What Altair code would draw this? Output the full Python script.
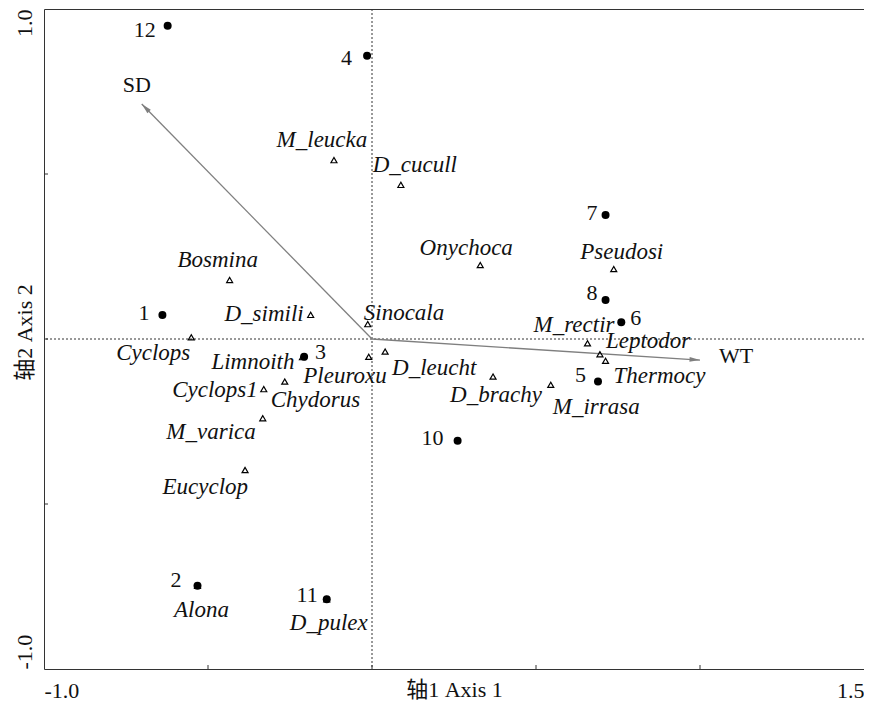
import altair as alt
import pandas as pd
import numpy as np

# ---- data (ordination scores) ----
site_ids = ["1", "2", "3", "4", "5", "6", "7", "8", "10", "11", "12"]
site_x = [-0.639, -0.532, -0.207, -0.015, 0.689, 0.760, 0.712, 0.712, 0.261, -0.138, -0.623]
site_y = [0.073, -0.748, -0.054, 0.858, -0.129, 0.051, 0.376, 0.118, -0.308, -0.789, 0.949]

species_names = ["Bosmina", "D_simili", "Sinocala", "Cyclops", "Limnoith", "Cyclops1",
                 "Chydorus", "M_varica", "Eucyclop", "Pleuroxu", "D_leucht", "D_brachy",
                 "M_irrasa", "Thermocy", "Leptodor", "M_rectir", "Pseudosi", "Onychoca",
                 "D_cucull", "M_leucka", "Alona", "D_pulex"]
species_x = [-0.434, -0.187, -0.013, -0.551, -0.212, -0.330, -0.266, -0.333, -0.387, -0.010,
             0.040, 0.369, 0.545, 0.712, 0.695, 0.657, 0.737, 0.330, 0.088, -0.116, -0.532, -0.138]
species_y = [0.179, 0.073, 0.045, 0.005, -0.055, -0.152, -0.129, -0.240, -0.397, -0.054,
             -0.038, -0.114, -0.139, -0.066, -0.046, -0.013, 0.212, 0.224, 0.467, 0.542, -0.748, -0.789]

env_names = ["SD", "WT"]
env_x = [-0.702, 1.000]
env_y = [0.712, -0.064]

x_tick_labels = [-1.0, 1.5]
y_tick_labels = [-1.0, 1.0]
x_minor_ticks = [-0.5, 0.0, 0.5, 1.0]
y_minor_ticks = [-0.5, 0.0, 0.5]

# ---- label layout (align, dx, dy in pixels) ----
species_label = {
    "Bosmina": ("center", -12, -20), "D_simili": ("right", -7, -1), "Sinocala": ("left", -4, -11),
    "Cyclops": ("right", -1, 16), "Limnoith": ("right", -8, 5), "Cyclops1": ("right", -6, 1),
    "Chydorus": ("left", -14, 18), "M_varica": ("right", -7, 14), "Eucyclop": ("right", 3, 17),
    "Pleuroxu": ("right", 18, 19), "D_leucht": ("left", 7, 16), "D_brachy": ("center", 3, 18),
    "M_irrasa": ("left", 2, 22), "Thermocy": ("left", 8, 15), "Leptodor": ("left", 6, -13),
    "M_rectir": ("right", 27, -18), "Pseudosi": ("center", 8, -17), "Onychoca": ("center", -14, -17),
    "D_cucull": ("center", 14, -20), "M_leucka": ("center", -12, -20), "Alona": ("center", 4, 24),
    "D_pulex": ("center", 2, 24),
}
site_label = {
    "12": ("right", -12, 4), "4": ("right", -15, 2), "7": ("right", -8, -2), "8": ("right", -8, -7),
    "6": ("left", 9, -4), "1": ("right", -13, -2), "3": ("left", 11, -5), "5": ("right", -12, -7),
    "10": ("right", -14, -3), "2": ("right", -16, -6), "11": ("right", -9, -4),
}
env_label = {"SD": ("center", -5, -19), "WT": ("left", 19, -4)}

W, H = 820, 660
FONT = "Liberation Serif"
CJK = "Liberation Serif, Noto Sans CJK SC"
LABEL_EXPR = "datum.value < 0 ? '-' + format(-datum.value, '.1f') : format(datum.value, '.1f')"

sites = pd.DataFrame({"name": site_ids, "x": site_x, "y": site_y})
species = pd.DataFrame({"name": species_names, "x": species_x, "y": species_y})
env = pd.DataFrame({"name": env_names, "x": env_x, "y": env_y})
env["x0"] = 0.0
env["y0"] = 0.0
env["ang"] = (np.degrees(np.arctan2(env["x"] * 1.0, env["y"] * 1.0)) + 360) % 360

xs = alt.Scale(domain=[-1.0, 1.5], nice=False, zero=False)
ys = alt.Scale(domain=[-1.0, 1.0], nice=False, zero=False)

X = lambda f="x": alt.X(f"{f}:Q", scale=xs)
Y = lambda f="y": alt.Y(f"{f}:Q", scale=ys)

x_axis = alt.Axis(values=x_tick_labels, labelExpr=LABEL_EXPR, grid=False, ticks=False, tickSize=0,
                  domain=False, labelFont=FONT, labelFontSize=22, labelColor="#111",
                  labelBaseline="alphabetic", labelPadding=28, labelFlush=True,
                  title="轴1 Axis 1", titleFont=CJK, titleFontSize=22, titleFontWeight="normal",
                  titleColor="#111", titleBaseline="alphabetic", titleY=27, titleX=W / 2)
y_axis = alt.Axis(values=y_tick_labels, labelExpr=LABEL_EXPR, grid=False, ticks=False, tickSize=0,
                  domain=False, labelFont=FONT, labelFontSize=22, labelColor="#111",
                  labelAngle=270, labelBaseline="alphabetic", labelPadding=13,
                  labelAlign={"condition": {"test": "datum.value > 0", "value": "right"}, "value": "left"},
                  title="轴2 Axis 2", titleFont=CJK, titleFontSize=22, titleFontWeight="normal",
                  titleColor="#111", titleAngle=270, titleBaseline="alphabetic", titleAlign="center",
                  titleX=-13, titleY=323)

layers = []

# zero lines
layers.append(alt.Chart(pd.DataFrame({"x": [0.0]})).mark_rule(
    color="#333", strokeDash=[2, 2], strokeWidth=1).encode(x=X()))
layers.append(alt.Chart(pd.DataFrame({"y": [0.0]})).mark_rule(
    color="#333", strokeDash=[2, 2], strokeWidth=1).encode(y=Y()))

# inner minor ticks
layers.append(alt.Chart(pd.DataFrame({"x": x_minor_ticks})).mark_rule(color="#333").encode(
    x=X(), y=alt.value(H - 4), y2=alt.value(H)))
layers.append(alt.Chart(pd.DataFrame({"y": y_minor_ticks})).mark_rule(color="#333").encode(
    y=Y(), x=alt.value(0), x2=alt.value(4)))

# environmental arrows
layers.append(alt.Chart(env).mark_rule(color="#7f7f7f", strokeWidth=1.3).encode(
    x=X("x0"), y=Y("y0"), x2="x:Q", y2="y:Q"))
layers.append(alt.Chart(env).mark_point(shape="M0,0L-0.45,2L0.45,2Z", filled=True, size=110,
                                        color="#7f7f7f", opacity=1).encode(
    x=X(), y=Y(), angle=alt.Angle("ang:Q", scale=None)))

# species triangles
layers.append(alt.Chart(species).mark_point(shape="triangle-up", size=36, filled=False,
                                            color="#000", strokeWidth=1.2, opacity=1).encode(x=X(), y=Y()))

# labels
for n, (a, dx, dy) in species_label.items():
    layers.append(alt.Chart(species).transform_filter(alt.datum.name == n).mark_text(
        align=a, baseline="middle", dx=dx, dy=dy, font=FONT, fontSize=23, fontStyle="italic",
        color="#111").encode(x=X(), y=Y(), text="name:N"))
for n, (a, dx, dy) in site_label.items():
    layers.append(alt.Chart(sites).transform_filter(alt.datum.name == n).mark_text(
        align=a, baseline="middle", dx=dx, dy=dy, font=FONT, fontSize=22,
        color="#111").encode(x=X(), y=Y(), text="name:N"))
for n, (a, dx, dy) in env_label.items():
    layers.append(alt.Chart(env).transform_filter(alt.datum.name == n).mark_text(
        align=a, baseline="middle", dx=dx, dy=dy, font=FONT, fontSize=22,
        color="#111").encode(x=X(), y=Y(), text="name:N"))

# site dots (carry the axes; drawn last)
layers.append(alt.Chart(sites).mark_circle(size=64, color="#000", opacity=1).encode(
    x=alt.X("x:Q", scale=xs, axis=x_axis), y=alt.Y("y:Q", scale=ys, axis=y_axis)))

chart = alt.layer(*layers).properties(
    width=W, height=H,
    autosize=alt.AutoSizeParams(type="none"),
    padding={"left": 36, "top": 1, "right": 0, "bottom": 32},
    background="white",
).configure_view(stroke="#333", strokeWidth=1)

chart.save("out.html", embed_options={"renderer": "svg", "actions": False})
